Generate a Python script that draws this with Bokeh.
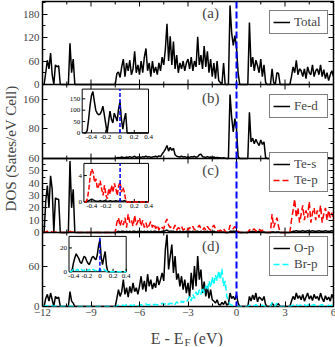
import numpy as np
from bokeh.plotting import figure
from bokeh.layouts import row, column
from bokeh.models import (Range1d, LinearAxis, FixedTicker, CustomJSTickFormatter,
                          Span, Label, Legend, LegendItem)
from bokeh.core.properties import value
from bokeh.embed import file_html
from bokeh.resources import INLINE

FONT = "Liberation Serif"

# ---------------- data ----------------
energy = np.round(np.arange(-12.0, 6.0001, 0.1), 1)   # E - E_F grid (eV)

def rows(*r):
    return [v for row_ in r for v in row_]

total_dos = rows(
    [0, 0, 30, 62, 40, 80, 25, 0, 50, 45],          # -12
    [48, 0, 0, 0, 0, 0, 0, 105, 30, 65],            # -11
    [0, 0, 0, 0, 0, 0, 0, 0, 0, 0],                 # -10
    [0, 0, 0, 0, 0, 0, 0, 0, 0, 0],                 # -9
    [0, 0, 0, 0, 0, 0, 28, 32, 18, 45],             # -8
    [65, 20, 55, 35, 62, 25, 40, 85, 30, 50],       # -7
    [25, 60, 30, 70, 92, 35, 55, 20, 60, 30],       # -6
    [45, 25, 55, 35, 70, 50, 90, 155, 60, 123],     # -5
    [50, 110, 40, 75, 30, 55, 40, 60, 35, 55],      # -4
    [65, 40, 70, 35, 60, 45, 122, 50, 75, 40],      # -3
    [98, 45, 85, 30, 65, 20, 55, 15, 60, 10],       # -2
    [5, 0, 55, 0, 0, 0, 202, 132, 100, 125],        # -1
    [95, 30, 0, 0, 0, 0, 0, 0, 158, 45],            # 0
    [70, 35, 62, 48, 30, 65, 20, 50, 5, 0],         # 1
    [0, 0, 40, 5, 0, 30, 28, 0, 0, 0],              # 2
    [0, 0, 0, 0, 20, 45, 30, 62, 25, 40],           # 3
    [35, 20, 40, 15, 45, 30, 25, 50, 20, 35],       # 4
    [40, 25, 50, 20, 38, 15, 30, 10, 25, 35],       # 5
    [20])

fed_dos = rows(
    [0, 0, 0, 0, 0, 0, 0, 0, 0, 0],
    [0, 0, 0, 0, 0, 0, 0, 0, 0, 0],
    [0, 0, 0, 0, 0, 0, 0, 0, 0, 0],
    [0, 0, 0, 0, 0, 0, 0, 0, 0, 0],
    [0, 0, 0, 0, 0, 0, 2, 3, 2, 4],
    [3, 2, 4, 3, 5, 3, 4, 6, 3, 4],
    [4, 3, 5, 4, 6, 4, 5, 3, 4, 5],
    [6, 4, 7, 5, 12, 18, 25, 35, 20, 30],
    [22, 28, 10, 6, 5, 4, 6, 4, 5, 3],
    [4, 3, 5, 4, 6, 3, 5, 10, 12, 5],
    [4, 3, 5, 3, 4, 3, 4, 2, 3, 2],
    [2, 1, 2, 1, 0, 0, 173, 112, 72, 108],
    [80, 5, 0, 0, 0, 0, 0, 0, 125, 45],
    [55, 40, 52, 42, 35, 50, 38, 45, 3, 0],
    [0, 1, 3, 1, 0, 2, 2, 0, 0, 0],
    [0, 0, 0, 0, 1, 2, 1, 2, 1, 1],
    [1, 2, 1, 2, 1, 1, 2, 1, 1, 2],
    [1, 2, 1, 1, 2, 1, 1, 2, 1, 1],
    [1])

tes_dos = rows(
    [0, 0, 25, 38, 20, 46, 35, 0, 28, 27],
    [27, 0, 0, 0, 0, 0, 0, 58, 20, 35],
    [0, 0, 0, 0, 0, 0, 0, 0, 0, 0],
    [0, 0, 0, 0, 0, 0, 0, 0, 0, 0],
    [0, 0, 0, 0, 0, 0, 0.5, 1, 0.5, 1],
    [1, 0.5, 1, 0.5, 1, 0.5, 1, 1, 0.5, 1],
    [0.5, 1, 0.5, 1, 0.5, 1, 0.5, 1, 0.5, 1],
    [1, 0.5, 1, 0.5, 1, 1, 1.5, 2, 1, 1],
    [1, 1, 0.5, 1, 0.5, 1, 0.5, 1, 0.5, 1],
    [0.5, 1, 0.5, 1, 0.5, 1, 1, 0.5, 1, 0.5],
    [1, 0.5, 1, 0.5, 1, 0.5, 1, 0.5, 0.5, 0.5],
    [0.5, 0.5, 0.5, 0, 0, 0, 1, 1, 1, 1],
    [1, 0.5, 0, 0, 0, 0, 0, 0, 1, 0.5],
    [1, 0.5, 1, 0.5, 1, 0.5, 0.5, 0.5, 0, 0],
    [0, 0, 0.5, 0.5, 0, 0.5, 0.5, 0, 0, 0],
    [0, 0, 0, 0, 0.5, 1, 1, 1.5, 1, 1],
    [1, 1.5, 1, 1, 1.5, 1, 1, 1.5, 1, 1],
    [1, 1.5, 1, 1, 1, 1.5, 1, 1, 1, 1.5],
    [1])

tep_dos = rows(
    [0, 0, 0.5, 1, 0.5, 1, 0.5, 0, 0.5, 0.5],
    [0.5, 0, 0, 0, 0, 0, 0, 1, 0.5, 0.5],
    [0, 0, 0, 0, 0, 0, 0, 0, 0, 0],
    [0, 0, 0, 0, 0, 0, 0, 0, 0, 0],
    [0, 0, 0, 0, 0, 0, 8, 12, 5, 10],
    [6, 12, 4, 15, 8, 10, 5, 14, 6, 9],
    [12, 5, 10, 4, 8, 3, 6, 9, 4, 7],
    [3, 6, 2, 5, 4, 3, 8, 11, 6, 4],
    [5, 3, 6, 2, 4, 3, 5, 2, 3, 4],
    [2, 4, 3, 5, 2, 3, 4, 6, 3, 2],
    [4, 2, 5, 3, 2, 4, 6, 3, 2, 1],
    [2, 1, 3, 1, 0, 0, 6, 4, 3, 5],
    [3, 1, 0, 0, 0, 0, 0, 0, 2, 3],
    [2, 3, 1, 2, 3, 1, 2, 1, 0, 0],
    [0, 0, 15, 4, 8, 12, 5, 0, 0, 0],
    [0, 0, 0, 0, 10, 18, 27, 12, 20, 8],
    [15, 22, 10, 18, 12, 25, 8, 16, 20, 10],
    [18, 12, 22, 8, 15, 20, 10, 18, 12, 16],
    [10])

op_dos = rows(
    [0, 0, 12, 18, 8, 20, 10, 0, 15, 12],
    [14, 0, 0, 0, 0, 0, 0, 22, 8, 5],
    [0, 0, 0, 0, 0, 0, 0, 0, 0, 0],
    [0, 0, 0, 0, 0, 0, 0, 0, 0, 0],
    [0, 0, 0, 0, 0, 0, 12, 25, 15, 22],
    [40, 18, 28, 14, 30, 20, 35, 22, 28, 18],
    [30, 45, 25, 38, 22, 48, 30, 40, 26, 35],
    [28, 45, 32, 40, 50, 38, 85, 107, 55, 75],
    [92, 50, 75, 40, 49, 30, 45, 25, 40, 20],
    [35, 14, 50, 25, 60, 30, 75, 40, 55, 20],
    [37, 15, 30, 12, 25, 10, 8, 5, 10, 3],
    [2, 6, 3, 8, 2, 4, 20, 12, 15, 10],
    [18, 5, 0, 0, 0, 0, 0, 0, 15, 8],
    [17, 10, 20, 7, 14, 12, 9, 15, 3, 0],
    [0, 0, 5, 2, 0, 3, 4, 0, 0, 0],
    [0, 0, 0, 0, 8, 15, 10, 20, 12, 16],
    [10, 18, 8, 14, 20, 11, 16, 9, 18, 12],
    [15, 9, 20, 12, 7, 16, 10, 14, 8, 18],
    [12])

brp_dos = rows(
    [0, 0, 1, 1, 0, 1, 1, 0, 1, 0],
    [1, 0, 0, 0, 0, 0, 0, 1, 0, 0],
    [0, 0, 0, 0, 0, 0, 0, 0, 0, 0],
    [0, 0, 0, 0, 0, 0, 0, 0, 0, 0],
    [0, 0, 0, 0, 0, 0, 1, 2, 1, 2],
    [2, 1, 3, 1, 2, 2, 1, 3, 2, 1],
    [2, 3, 1, 2, 4, 2, 3, 1, 2, 3],
    [3, 2, 4, 3, 5, 3, 4, 6, 3, 5],
    [4, 6, 3, 7, 5, 4, 8, 6, 9, 7],
    [10, 15, 8, 18, 12, 22, 15, 25, 18, 28],
    [20, 31, 24, 38, 28, 44, 32, 47, 38, 53],
    [40, 56, 30, 38, 15, 8, 3, 2, 1, 1],
    [1, 0, 0, 0, 0, 0, 0, 0, 2, 1],
    [2, 1, 3, 1, 2, 1, 2, 1, 0, 0],
    [0, 0, 6, 2, 0, 5, 3, 0, 0, 0],
    [0, 0, 0, 0, 1, 2, 1, 3, 1, 2],
    [2, 1, 3, 1, 2, 4, 1, 2, 3, 1],
    [2, 1, 2, 3, 1, 2, 1, 2, 1, 2],
    [1])

for s in (total_dos, fed_dos, tes_dos, tep_dos, op_dos, brp_dos):
    assert len(s) == len(energy), len(s)

# insets (zoom near E_F)
inset_e_bc = np.round(np.arange(-0.50, 0.4001, 0.02), 2)
inset_e_d = np.round(np.arange(-0.46, 0.4001, 0.02), 2)

inset_fed = rows(
    [0, 0, 10, 60, 120, 165, 182, 140, 100, 87],
    [80, 83, 95, 118, 80, 40, 0, 50, 96, 60],
    [44, 87, 70, 52, 105, 138, 60, 17, 60, 87],
    [0],
    [0] * 15)
inset_tep = rows(
    [0, 0, 0.5, 2, 4, 5, 4.5, 3, 3.5, 2],
    [2.5, 3.2, 2, 1, 2.5, 1, 0.5, 2, 1.2, 2.5],
    [1.5, 2.8, 2, 1, 2.5, 3, 1.5, 2.2, 1.5, 0.2],
    [0],
    [0] * 15)
inset_tes = rows(
    [0, 0, 0.1, 0.2, 0.3, 0.4, 0.3, 0.2, 0.1, 0.1],
    [0.1, 0.2, 0.1, 0.1, 0.2, 0.1, 0.1, 0.1, 0.2, 0.1],
    [0.1, 0.1, 0.2, 0.1, 0.1, 0.2, 0.1, 0.1, 0.2, 0.1],
    [0],
    [0] * 15)
inset_op = rows(
    [0, 0, 2, 8, 12, 15, 13, 11, 8, 7],
    [10, 13, 12, 9, 7, 6, 9, 12, 13, 11],
    [10, 14, 22, 27, 12, 6, 12, 17, 5, 0],
    [0] * 14)
inset_brp = rows(
    [0, 0, 1, 2, 2, 1, 2, 1, 1, 2],
    [1, 1, 2, 1, 1, 2, 1, 1, 2, 1],
    [1, 2, 1, 2, 1, 1, 2, 1, 0.5, 0],
    [0] * 14)
assert len(inset_fed) == len(inset_e_bc) == len(inset_tep) == len(inset_tes)
assert len(inset_op) == len(inset_e_d) == len(inset_brp)

# axis ticks
x_ticks = [-12, -9, -6, -3, 0, 3, 6]
x_minor = [-10.5, -7.5, -4.5, -1.5, 1.5, 4.5]
panel_ticks = {
    "a": ([0, 60, 120, 180], [30, 90, 150, 210]),
    "b": ([80, 160], [40, 120]),
    "c": ([0, 10, 20, 30, 40, 50, 60], [5, 15, 25, 35, 45, 55]),
    "d": ([0, 60], [30, 90]),
}
panel_max = {"a": 212, "b": 200, "c": 60, "d": 110}
inset_xticks = [-0.4, -0.2, 0, 0.2, 0.4]
inset_xlabels = ["-0.4", "-0.2", "0", "0.2", "0.4"]
inset_b_yticks, inset_b_ylabels = [0, 50, 100, 150], ["0", "50", "100", "150"]
inset_c_yticks, inset_c_ylabels = [0, 4], ["0", "4"]
inset_d_yticks, inset_d_ylabels = [0, 20], ["0", "20"]

# ---------------- layout ----------------
FW, FH = 291, 305
bands = {"a": (222, 305), "b": (148, 222), "c": (74, 148), "d": (0, 74)}
LEFT, RIGHT, TOP, BOTTOM = 20, 5, 1, 15
YT_W = 19
XT_H = 25

p = figure(frame_width=FW, frame_height=FH, x_range=Range1d(-12, 6), y_range=Range1d(0, FH),
           output_backend="svg", toolbar_location=None,
           min_border_left=LEFT, min_border_right=RIGHT, min_border_top=TOP,
           min_border_bottom=BOTTOM)
p.xgrid.visible = False
p.ygrid.visible = False
p.outline_line_color = "black"
p.outline_line_width = 1.5
p.background_fill_color = "white"
p.border_fill_color = "white"


def mapped_range(lo, hi, p0, p1, total):
    s = (hi - lo) / (p1 - p0)
    start = lo - p0 * s
    return Range1d(start, start + total * s)


for k, (b0, b1) in bands.items():
    p.extra_y_ranges[k] = mapped_range(0, panel_max[k], b0, b1, FH)

# y axis ticks (positions in frame pixels)
ypos, ylab, ymin = [], [], []
for k, (b0, b1) in bands.items():
    sc = (b1 - b0) / panel_max[k]
    maj, mnr = panel_ticks[k]
    for v in maj:
        ypos.append(round(b0 + v * sc, 3))
        ylab.append(str(v))
    for v in mnr:
        ymin.append(round(b0 + v * sc, 3))
yticker = FixedTicker(ticks=ypos, minor_ticks=ymin)
yfmt = CustomJSTickFormatter(args=dict(pos=ypos, lab=ylab), code="""
const i = pos.findIndex(q => Math.abs(q - tick) < 0.01);
return i < 0 ? '' : lab[i];""")

ly = p.left[0]
ly.ticker = yticker
ly.formatter = yfmt
ry = LinearAxis(ticker=yticker, formatter=CustomJSTickFormatter(code="return '';"))
p.add_layout(ry, "right")
for ax in (ly, ry):
    ax.major_tick_in = 5
    ax.major_tick_out = 0
    ax.minor_tick_in = 3
    ax.minor_tick_out = 0
    ax.axis_line_color = None
    ax.major_label_text_font = FONT
    ax.major_label_text_font_size = "11px"
    ax.major_label_standoff = 3
ry.major_label_standoff = 0

bx = p.below[0]
bx.ticker = FixedTicker(ticks=x_ticks, minor_ticks=x_minor)
bx.major_tick_in = 5
bx.major_tick_out = 0
bx.minor_tick_in = 3
bx.minor_tick_out = 0
bx.axis_line_color = None
bx.major_label_text_font = FONT
bx.major_label_text_font_size = "11px"
bx.major_label_standoff = 2

# x ticks at panel boundaries and top
for key in ("a", "b", "c"):
    yb = bands[key][0]
    p.segment(x0=x_ticks, x1=x_ticks, y0=[yb - 5] * len(x_ticks), y1=[yb + 5] * len(x_ticks),
              line_color="black", line_width=1)
    p.segment(x0=x_minor, x1=x_minor, y0=[yb - 3] * len(x_minor), y1=[yb + 3] * len(x_minor),
              line_color="black", line_width=1)
    p.add_layout(Span(location=yb, dimension="width", line_color="black", line_width=1.5))
p.segment(x0=x_ticks, x1=x_ticks, y0=[FH - 5] * len(x_ticks), y1=[FH] * len(x_ticks),
          line_color="black", line_width=1)
p.segment(x0=x_minor, x1=x_minor, y0=[FH - 3] * len(x_minor), y1=[FH] * len(x_minor),
          line_color="black", line_width=1)

# ---------------- curves ----------------
lw = 1.5
r_total = p.line(energy, total_dos, y_range_name="a", line_color="black", line_width=lw)
r_fed = p.line(energy, fed_dos, y_range_name="b", line_color="black", line_width=lw)
r_tes = p.line(energy, tes_dos, y_range_name="c", line_color="black", line_width=lw)
r_tep = p.line(energy, tep_dos, y_range_name="c", line_color="#ff0000", line_width=lw,
               line_dash="6 3")
r_op = p.line(energy, op_dos, y_range_name="d", line_color="black", line_width=lw)
r_brp = p.line(energy, brp_dos, y_range_name="d", line_color="#00ffff", line_width=lw,
               line_dash="6 3")

p.add_layout(Span(location=0, dimension="height", line_color="#0000ff", line_width=2,
                  line_dash="7 3"))

# ---------------- insets ----------------
insets = {
    "b": dict(px=(39.7, 106.0), py=(173.6, 217.4), xr=(-0.53, 0.40), yr=(0, 193),
              yt=inset_b_yticks, yl=inset_b_ylabels),
    "c": dict(px=(41.4, 106.0), py=(104.6, 143.1), xr=(-0.51, 0.40), yr=(0, 5.85),
              yt=inset_c_yticks, yl=inset_c_ylabels),
    "d": dict(px=(26.5, 83.7), py=(34.8, 70.1), xr=(-0.47, 0.40), yr=(0, 29.7),
              yt=inset_d_yticks, yl=inset_d_ylabels),
}
for k, d in insets.items():
    xn, yn = "ix" + k, "iy" + k
    p.extra_x_ranges[xn] = mapped_range(d["xr"][0], d["xr"][1], d["px"][0], d["px"][1], FW)
    p.extra_y_ranges[yn] = mapped_range(d["yr"][0], d["yr"][1], d["py"][0], d["py"][1], FH)
    xlo, xhi = d["xr"]
    ylo, yhi = d["yr"]
    sx = (xhi - xlo) / (d["px"][1] - d["px"][0])
    sy = (yhi - ylo) / (d["py"][1] - d["py"][0])
    kw = dict(x_range_name=xn, y_range_name=yn)
    p.quad(left=xlo, right=xhi, bottom=ylo, top=yhi, fill_color="white",
           line_color="black", line_width=1, **kw)
    n = len(inset_xticks)
    p.segment(x0=inset_xticks, x1=inset_xticks, y0=[ylo] * n, y1=[ylo + 3 * sy] * n,
              line_color="black", line_width=1, **kw)
    m = len(d["yt"])
    p.segment(x0=[xlo] * m, x1=[xlo + 3 * sx] * m, y0=d["yt"], y1=d["yt"],
              line_color="black", line_width=1, **kw)
    p.text(x=inset_xticks, y=[ylo] * n, text=inset_xlabels, y_offset=2,
           text_align="center", text_baseline="top", text_font=value(FONT),
           text_font_size="7px", text_color="black", **kw)
    p.text(x=[xlo] * m, y=d["yt"], text=d["yl"], x_offset=-2,
           text_align="right", text_baseline="middle", text_font=value(FONT),
           text_font_size="7px", text_color="black", **kw)

kb = dict(x_range_name="ixb", y_range_name="iyb")
kc = dict(x_range_name="ixc", y_range_name="iyc")
kd = dict(x_range_name="ixd", y_range_name="iyd")
p.line(inset_e_bc, inset_fed, line_color="black", line_width=1.5, **kb)
p.line(inset_e_bc, inset_tes, line_color="black", line_width=1.5, **kc)
p.line(inset_e_bc, inset_tep, line_color="#ff0000", line_width=1.5, line_dash="5 2", **kc)
p.line(inset_e_d, inset_op, line_color="black", line_width=1.5, **kd)
p.line(inset_e_d, inset_brp, line_color="#00ffff", line_width=1.5, line_dash="5 2", **kd)
for k, kw in (("b", kb), ("c", kc), ("d", kd)):
    ylo, yhi = insets[k]["yr"]
    p.segment(x0=[0], x1=[0], y0=[ylo], y1=[yhi], line_color="#0000ff", line_width=1.5,
              line_dash="4 2", **kw)

# ---------------- legends ----------------
def make_legend(items, loc):
    lg = Legend(items=[LegendItem(label=t, renderers=[r]) for t, r in items], location=loc,
                padding=3, spacing=0, margin=0, glyph_width=17, glyph_height=12,
                label_height=12, label_width=30, label_standoff=4,
                label_text_font=FONT, label_text_font_size="13px",
                border_line_color="black", border_line_width=1,
                background_fill_color="white", background_fill_alpha=1)
    p.add_layout(lg)

make_legend([("Total", r_total)], (227, 272))
make_legend([("Fe-d", r_fed)], (227, 188))
make_legend([("Te-s", r_tes), ("Te-p", r_tep)], (227, 114))
make_legend([("O-p", r_op), ("Br-p", r_brp)], (227, 30))

# ---------------- panel letters ----------------
for k, yv in (("a", 182), ("b", 163), ("c", 50.5), ("d", 89.7)):
    p.add_layout(Label(x=-1.6, y=yv, y_range_name=k, text="(%s)" % k, text_align="center",
                       text_baseline="middle", text_font=FONT, text_font_size="15px"))

# ---------------- axis titles (own small figures) ----------------
TOTAL_H = TOP + FH + BOTTOM + XT_H


def blank_fig(w, h, xr, yr, **kw):
    f = figure(width=w, height=h, x_range=xr, y_range=yr, output_backend="svg",
               toolbar_location=None, min_border=0, **kw)
    f.xaxis.visible = False
    f.yaxis.visible = False
    f.xgrid.visible = False
    f.ygrid.visible = False
    f.outline_line_color = None
    f.background_fill_color = "white"
    f.border_fill_color = "white"
    return f


yt = blank_fig(YT_W, TOTAL_H, Range1d(0, YT_W), Range1d(0, TOTAL_H))
yt.add_layout(Label(x=10, y=TOTAL_H - 148, text="DOS (Sates/eV Cell)", angle=90,
                    angle_units="deg", text_align="center", text_baseline="middle",
                    text_font=FONT, text_font_size="15px"))

xt = figure(frame_width=FW, frame_height=XT_H, x_range=p.x_range, y_range=Range1d(0, XT_H),
            output_backend="svg", toolbar_location=None, min_border_left=LEFT,
            min_border_right=RIGHT, min_border_top=0, min_border_bottom=0)
xt.xaxis.visible = False
xt.yaxis.visible = False
xt.xgrid.visible = False
xt.ygrid.visible = False
xt.outline_line_color = None
xt.add_layout(Label(x=-3.03, y=8, x_offset=-4, text="E - E", text_align="right",
                    text_baseline="alphabetic", text_font=FONT, text_font_size="16px"))
xt.add_layout(Label(x=-3.03, y=5, x_offset=-3, text="F", text_align="left",
                    text_baseline="alphabetic", text_font=FONT, text_font_size="11px"))
xt.add_layout(Label(x=-3.03, y=8, x_offset=6, text="(eV)", text_align="left",
                    text_baseline="alphabetic", text_font=FONT, text_font_size="16px"))

layout = row(yt, column(p, xt, spacing=0), spacing=0)

open("out.html", "w").write(file_html(layout, INLINE))
